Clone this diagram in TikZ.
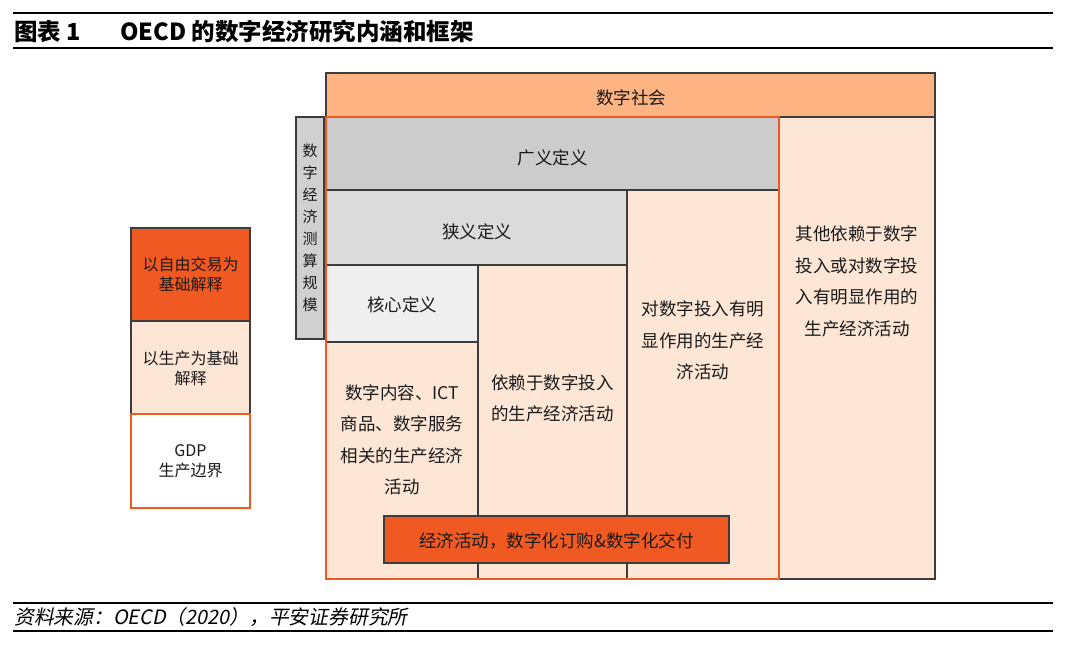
\documentclass[tikz,border=0pt]{standalone}
\usepackage{fontspec}
\newfontfamily\cjk{Noto Sans CJK SC}
\newfontfamily\cjkit{Noto Sans CJK SC}[FakeSlant=0.2]
\definecolor{orng}{HTML}{F05A22}
\definecolor{peachhead}{HTML}{FDB482}
\definecolor{peach}{HTML}{FDE6D6}
\definecolor{grayA}{HTML}{CCCCCC}
\definecolor{grayB}{HTML}{DBDBDB}
\definecolor{grayC}{HTML}{EFEFEF}
\definecolor{grayV}{HTML}{D0D0D0}
\definecolor{bordc}{HTML}{3C3C3C}
\definecolor{txt}{HTML}{1A1A1A}
\begin{document}
\begin{tikzpicture}[x=1pt,y=-1pt,
  box/.style={draw=bordc, line width=1.3pt, inner sep=0pt},
  body/.style={font=\cjk\fontsize{17.5}{31.5}\selectfont, align=center, text=txt, inner sep=0pt},
  small/.style={font=\cjk\fontsize{16}{20}\selectfont, align=center, text=txt, inner sep=0pt},
  rulel/.style={line width=2.2pt, black},
  titlef/.style={font=\cjk\bfseries\fontsize{23.5}{26}\selectfont, anchor=west, inner sep=0pt, text=black}]
\useasboundingbox (0,0) rectangle (1068,646);
\fill[white] (0,0) rectangle (1068,646);

% title and footer
\draw[rulel] (13,13) -- (1053,13);
\draw[rulel] (13,48) -- (1053,48);
\node[titlef] (t1) at (14,32) {图表 1};
\node[titlef] (t2) at (120,32) {OECD 的数字经济研究内涵和框架};
\draw[rulel] (13,603) -- (1053,603);
\draw[rulel] (13,631) -- (1053,631);
\node[anchor=west, inner sep=0pt, font=\cjkit\fontsize{19.8}{22}\selectfont, text=black] (src) at (14,617) {资料来源：OECD（2020），平安证券研究所};

% right column and header
\node[box, fill=peach, minimum width=156, minimum height=462] (rbox) at (857,348) {};
\node[body] (rtxt) at (857,281.5) {其他依赖于数字\\投入或对数字投\\入有明显作用的\\生产经济活动};
\node[box, fill=peachhead, minimum width=609, minimum height=44] (soc) at (630.5,95) {};
\node[body] (soct) at (631,98) {数字社会};

% inner boxes
\node[box, fill=grayA, minimum width=453, minimum height=73] (broad) at (552.5,153.5) {};
\node[body] (broadt) at (552.5,158) {广义定义};
\node[box, fill=peach, minimum width=152, minimum height=389] (col3) at (703,384.5) {};
\node[body] (c3txt) at (703,340.5) {对数字投入有明\\显作用的生产经\\济活动};
\node[box, fill=grayB, minimum width=301, minimum height=75] (narrow) at (476.5,227.5) {};
\node[body] (narrowt) at (477,232) {狭义定义};
\node[box, fill=peach, minimum width=149, minimum height=314] (col2) at (552.5,422) {};
\node[body] (c2txt) at (552.5,398.5) {依赖于数字投入\\的生产经济活动};
\node[box, fill=grayC, minimum width=152, minimum height=77] (core) at (402,303.5) {};
\node[body] (coret) at (402,305) {核心定义};
\node[box, fill=peach, minimum width=152, minimum height=237] (col1) at (402,460.5) {};
\node[body] (c1txt) at (402,440) {数字内容、ICT\\商品、数字服务\\相关的生产经济\\活动};

% orange economy frame
\node[draw=orng, line width=2.6pt, minimum width=453, minimum height=462, inner sep=0pt] (eco) at (552.5,348) {};

% bottom bar
\node[box, fill=orng, minimum width=345, minimum height=47] (bar) at (556.5,539.5) {};
\node[body] (bart) at (556.5,541) {经济活动，数字化订购\&数字化交付};

% vertical label
\node[box, fill=grayV, minimum width=28, minimum height=222] (vbox) at (310,228) {};
\node[font=\cjk\fontsize{15}{22}\selectfont, align=center, text=txt, inner sep=0pt] (vtxt) at (310,228) {数\\字\\经\\济\\测\\算\\规\\模};

% left column
\node[box, fill=orng, minimum width=119, minimum height=93] (l1) at (190.5,274.5) {};
\node[small] (l1t) at (190.5,274) {以自由交易为\\基础解释};
\node[box, fill=peach, minimum width=119, minimum height=93] (l2) at (190.5,367.5) {};
\node[small] (l2t) at (190.5,368) {以生产为基础\\解释};
\node[draw=orng, fill=white, line width=2.6pt, minimum width=119, minimum height=94, inner sep=0pt] (l3) at (190.5,461) {};
\node[small] (l3t) at (190.5,461) {GDP\\生产边界};
\end{tikzpicture}
\end{document}
